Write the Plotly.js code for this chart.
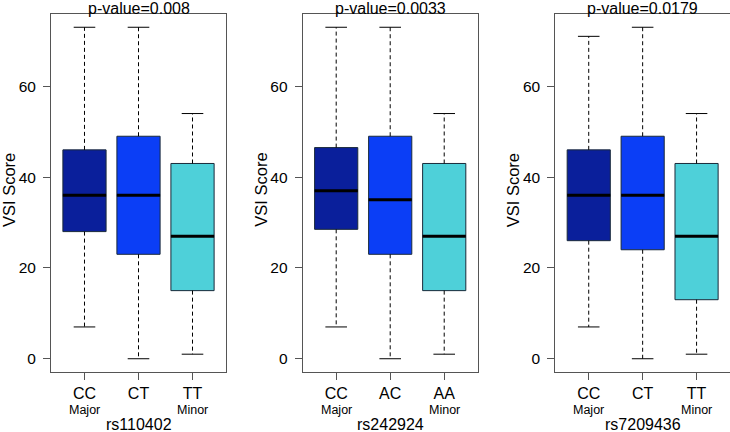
<!DOCTYPE html>
<html>
<head>
<meta charset="utf-8">
<script src="https://cdn.plot.ly/plotly-3.0.1.min.js"></script>
<style>
  body { margin: 0; background: #fff; }
  #container { width: 730px; height: 432px; }
</style>
</head>
<body>
<div id="container"></div>
<script>
// snps and their p-values
var snps = ["rs110402", "rs242924", "rs7209436"];
var pvalues = ["0.008", "0.0033", "0.0179"];

// genotype labels for each panel
var genotypes = [
  ["CC", "CT", "TT"],
  ["CC", "AC", "AA"],
  ["CC", "CT", "TT"]
];
var alleleTags = ["Major", "", "Minor"];

// box statistics for each panel (one value per genotype)
var lowerWhisker = [[7, 0, 1], [7, 0, 1], [7, 0, 1]];
var lowerQuart = [[28, 23, 15], [28.5, 23, 15], [26, 24, 13]];
var medians = [[36, 36, 27], [37, 35, 27], [36, 36, 27]];
var upperQuart = [[46, 49, 43], [46.5, 49, 43], [46, 49, 43]];
var upperWhisker = [[73, 73, 54], [73, 73, 54], [71, 73, 54]];

// colours of the three genotypes
var boxColors = ["#0a1f9b", "#0b3ef6", "#4ed0d9"];

// pixel edges of the panel frames
var W = 730, H = 432;
var frameLeft = [51, 302.7, 555.3];
var frameWidth = 175;
var frameTop = 14, frameBottom = 372;

var traces = [];
var layout = {
  width: W,
  height: H,
  margin: {l: 0, r: 0, t: 0, b: 0},
  paper_bgcolor: "#fff",
  plot_bgcolor: "#fff",
  showlegend: false,
  font: {family: "Liberation Sans, Arial, sans-serif", color: "#000"},
  annotations: []
};

for (let p = 0; p < snps.length; p++) {
  var xa = p === 0 ? "x" : "x" + (p + 1);
  var ya = p === 0 ? "y" : "y" + (p + 1);
  var positions = [1, 2, 3];

  // dashed whiskers
  var wx = [], wy = [];
  // caps and medians
  var cx = [], cy = [], mx = [], my = [];
  positions.forEach(function(pos, i) {
    wx.push(pos, pos, null, pos, pos, null);
    wy.push(upperQuart[p][i], upperWhisker[p][i], null, lowerQuart[p][i], lowerWhisker[p][i], null);
    cx.push(pos - 0.2, pos + 0.2, null, pos - 0.2, pos + 0.2, null);
    cy.push(upperWhisker[p][i], upperWhisker[p][i], null, lowerWhisker[p][i], lowerWhisker[p][i], null);
    mx.push(pos - 0.4, pos + 0.4, null);
    my.push(medians[p][i], medians[p][i], null);
  });

  traces.push({
    x: wx, y: wy, xaxis: xa, yaxis: ya,
    type: "scatter", mode: "lines", hoverinfo: "skip",
    line: {color: "#000", width: 1, dash: "4px,3px"}
  });
  traces.push({
    x: cx, y: cy, xaxis: xa, yaxis: ya,
    type: "scatter", mode: "lines", hoverinfo: "skip",
    line: {color: "#000", width: 1}
  });

  // boxes
  positions.forEach(function(pos, i) {
    traces.push({
      type: "box",
      x: [pos],
      q1: [lowerQuart[p][i]],
      median: [medians[p][i]],
      q3: [upperQuart[p][i]],
      lowerfence: [lowerQuart[p][i]],
      upperfence: [upperQuart[p][i]],
      width: 0.8,
      whiskerwidth: 0,
      fillcolor: boxColors[i],
      line: {color: "#1a2a3a", width: 1},
      boxpoints: false,
      hoverinfo: "skip",
      xaxis: xa, yaxis: ya
    });
  });

  // thick median lines
  traces.push({
    x: mx, y: my, xaxis: xa, yaxis: ya,
    type: "scatter", mode: "lines", hoverinfo: "skip",
    line: {color: "#000", width: 3}
  });

  // axes
  var x0 = frameLeft[p] / W;
  var x1 = Math.min((frameLeft[p] + frameWidth) / W, 1);
  var y0 = 1 - frameBottom / H;
  var y1 = 1 - frameTop / H;
  var xkey = p === 0 ? "xaxis" : "xaxis" + (p + 1);
  var ykey = p === 0 ? "yaxis" : "yaxis" + (p + 1);
  var mid = (frameLeft[p] + frameWidth / 2) / W;

  layout[xkey] = {
    domain: [x0, x1],
    anchor: ya,
    range: [0.38, 3.62],
    tickvals: positions,
    ticktext: genotypes[p],
    ticks: "outside",
    ticklen: 7,
    tickcolor: "#555",
    tickfont: {size: 16},
    ticklabelstandoff: 0,
    showline: true,
    mirror: true,
    linecolor: "#555",
    showgrid: false,
    zeroline: false,
    fixedrange: true
  };
  layout[ykey] = {
    domain: [y0, y1],
    anchor: xa,
    range: [-2.92, 75.92],
    tickvals: [0, 20, 40, 60],
    ticks: "outside",
    ticklen: 7,
    tickcolor: "#555",
    tickfont: {size: 15.5},
    ticklabelstandoff: 4,
    showline: true,
    mirror: true,
    linecolor: "#555",
    showgrid: false,
    zeroline: false,
    fixedrange: true
  };

  // p-value title
  layout.annotations.push({
    text: "p-value=" + pvalues[p],
    xref: "paper", yref: "paper",
    x: mid,
    y: 1 - 19 / H,
    xanchor: "center", yanchor: "bottom",
    showarrow: false,
    font: {size: 16}
  });

  // y axis title
  layout.annotations.push({
    text: "VSI Score",
    xref: "paper", yref: "paper",
    x: (frameLeft[p] - 42) / W,
    y: 1 - 190 / H,
    xanchor: "center", yanchor: "middle",
    textangle: -90,
    showarrow: false,
    font: {size: 16.5}
  });

  // major / minor tags
  positions.forEach(function(pos, i) {
    if (!alleleTags[i]) return;
    layout.annotations.push({
      text: alleleTags[i],
      xref: xa, yref: "paper",
      x: pos,
      y: 1 - 410 / H,
      xanchor: "center", yanchor: "middle",
      showarrow: false,
      font: {size: 12.5}
    });
  });

  // snp name below
  layout.annotations.push({
    text: snps[p],
    xref: "paper", yref: "paper",
    x: mid,
    y: 1 - 424 / H,
    xanchor: "center", yanchor: "middle",
    showarrow: false,
    font: {size: 16}
  });
}

Plotly.newPlot("container", traces, layout, {staticPlot: true});
</script>
</body>
</html>
